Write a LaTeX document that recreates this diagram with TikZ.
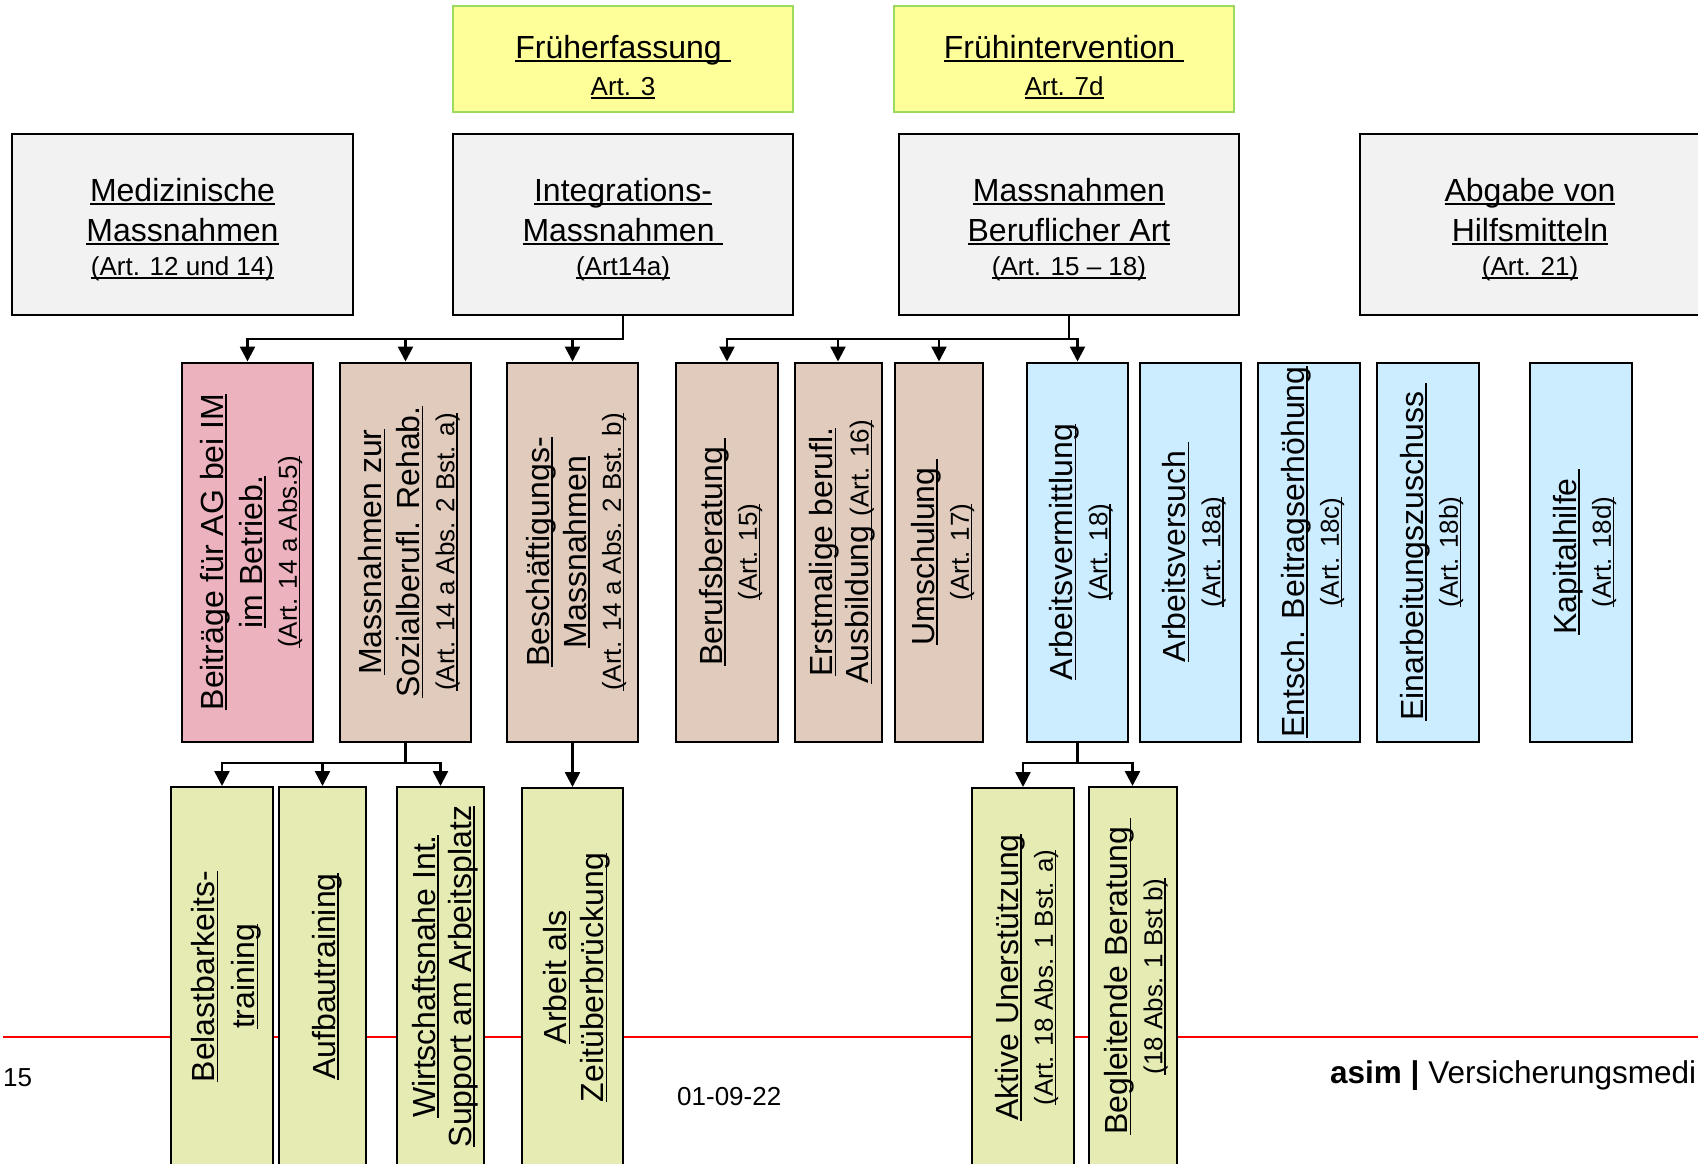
\documentclass[tikz,border=0pt]{standalone}
\usepackage{fontspec}
\setmainfont{Liberation Sans}
\usepackage{graphicx}
\usetikzlibrary{arrows.meta}

\definecolor{boxgray}{HTML}{F2F2F2}
\definecolor{boxyellow}{HTML}{FFFF99}
\definecolor{boxgreen}{HTML}{9BDB5F}
\definecolor{boxpink}{HTML}{ECB2BE}
\definecolor{boxtan}{HTML}{E0CBBC}
\definecolor{boxblue}{HTML}{CCECFF}
\definecolor{boxlime}{HTML}{E6EBB3}

\newsavebox{\undlbox}
\newcommand{\undl}[1]{\sbox{\undlbox}{#1}\rlap{\usebox{\undlbox}}\rule[-3.5pt]{\wd\undlbox}{1.4pt}}
\newcommand{\bigtxt}{\fontsize{32}{38}\selectfont}
\newcommand{\smalltxt}{\fontsize{26}{31}\selectfont}
% text block, lowered a little as in the slide
\newcommand{\hlines}[2][5pt]{\raisebox{-#1}[\height][\depth]{\bigtxt\begin{tabular}{@{}c@{}}#2\end{tabular}}}
\newcommand{\vlines}[2][5pt]{\rotatebox{90}{\hlines[#1]{#2}}}

\begin{document}
\begin{tikzpicture}[x=1pt,y=-1pt,
  catbox/.style={draw, line width=2pt, inner sep=0pt},
  graybox/.style={catbox, fill=boxgray, minimum width=340pt, minimum height=181pt},
  yelbox/.style={draw=boxgreen, line width=2pt, fill=boxyellow, inner sep=0pt,
    minimum width=340pt, minimum height=105pt},
  tallbox/.style={catbox, minimum height=379pt},
  conn/.style={line width=2.5pt},
  arr/.style={conn, -{Triangle[length=15pt,width=15pt]}}]
  \useasboundingbox (0,0) rectangle (1698,1164);

  \draw[red, line width=2pt] (3,1037) -- (1698,1037);

  % top row
  \node[yelbox] (frueh) at (623,59)
    {\hlines[10pt]{\undl{Früherfassung\ }\\[-1pt] \smalltxt\undl{Art. 3}}};
  \node[yelbox] (inter) at (1064,59)
    {\hlines[10pt]{\undl{Frühintervention\ }\\[-1pt] \smalltxt\undl{Art. 7d}}};

  \node[graybox, minimum width=341pt] (med) at (182.5,224.5)
    {\hlines[6pt]{\undl{Medizinische}\\[2pt] \undl{Massnahmen}\\[-4pt] \smalltxt\undl{(Art. 12 und 14)}}};
  \node[graybox] (integ) at (623,224.5)
    {\hlines[6pt]{\undl{Integrations-}\\[2pt] \undl{Massnahmen\ }\\[-4pt] \smalltxt\undl{(Art14a)}}};
  \node[graybox] (beruf) at (1069,224.5)
    {\hlines[6pt]{\undl{Massnahmen}\\[2pt] \undl{Beruflicher Art}\\[-4pt] \smalltxt\undl{(Art. 15 – 18)}}};
  \node[graybox] (abgabe) at (1530,224.5)
    {\hlines[6pt]{\undl{Abgabe von}\\[2pt] \undl{Hilfsmitteln}\\[-4pt] \smalltxt\undl{(Art. 21)}}};

  % middle row
  \node[tallbox, fill=boxpink, minimum width=131pt] (beitr) at (247.5,552)
    {\vlines{\undl{Beiträge für AG bei IM}\\[1pt] \undl{im Betrieb.}\\[-3.5pt] \smalltxt\undl{(Art. 14 a Abs.5)}}};
  \node[tallbox, fill=boxtan, minimum width=131pt] (sozial) at (405.5,552)
    {\vlines{\undl{Massnahmen zur}\\ \undl{Sozialberufl. Rehab.}\\[-3.5pt] \smalltxt\undl{(Art. 14 a Abs. 2 Bst. a)}}};
  \node[tallbox, fill=boxtan, minimum width=131pt] (besch) at (572.5,552)
    {\vlines{\undl{Beschäftigungs-}\\[-1pt] \undl{Massnahmen}\\[-3.5pt] \smalltxt\undl{(Art. 14 a Abs. 2 Bst. b)}}};
  \node[tallbox, fill=boxtan, minimum width=102pt] (bberat) at (727,552)
    {\vlines{\undl{Berufsberatung\ }\\[-3.5pt] \smalltxt\undl{(Art. 15)}}};
  \node[tallbox, fill=boxtan, minimum width=87pt] (erstm) at (838,552)
    {\vlines{\undl{Erstmalige berufl.}\\[-2pt] \undl{Ausbildung {\smalltxt(Art. 16)}}}};
  \node[tallbox, fill=boxtan, minimum width=88pt] (umsch) at (939,552)
    {\vlines{\undl{Umschulung\ }\\[-3.5pt] \smalltxt\undl{(Art. 17)}}};
  \node[tallbox, fill=boxblue, minimum width=101pt] (vermit) at (1077.5,552)
    {\vlines{\undl{Arbeitsvermittlung}\\[-3.5pt] \smalltxt\undl{(Art. 18)}}};
  \node[tallbox, fill=boxblue, minimum width=101pt] (versuch) at (1190.5,552)
    {\vlines{\undl{Arbeitsversuch\ }\\[-3.5pt] \smalltxt\undl{(Art. 18a)}}};
  \node[tallbox, fill=boxblue, minimum width=102pt] (entsch) at (1309,552)
    {\vlines{\undl{Entsch. Beitragserhöhung}\\[-3.5pt] \smalltxt\undl{(Art. 18c)}}};
  \node[tallbox, fill=boxblue, minimum width=102pt] (einarb) at (1428,552)
    {\vlines{\undl{Einarbeitungszuschuss\ }\\[-3.5pt] \smalltxt\undl{(Art. 18b)}}};
  \node[tallbox, fill=boxblue, minimum width=102pt] (kapital) at (1581,552)
    {\vlines{\undl{Kapitalhilfe\ }\\[-3.5pt] \smalltxt\undl{(Art. 18d)}}};

  % bottom row
  \node[tallbox, fill=boxlime, minimum width=102pt] (belast) at (222,976.5)
    {\vlines{\undl{Belastbarkeits-}\\[2pt] \undl{training}}};
  \node[tallbox, fill=boxlime, minimum width=87pt] (aufbau) at (322.5,976.5)
    {\vlines{\undl{Aufbautraining}}};
  \node[tallbox, fill=boxlime, minimum width=87pt] (wirtsch) at (440.5,976.5)
    {\vlines{\undl{Wirtschaftsnahe Int.}\\[-2pt] \undl{Support am Arbeitsplatz}}};
  \node[tallbox, fill=boxlime, minimum width=101pt] (zeitbr) at (572.5,977.5)
    {\vlines{\undl{Arbeit als}\\[-1pt] \undl{Zeitüberbrückung}}};
  \node[tallbox, fill=boxlime, minimum width=102pt] (aktiv) at (1023,977.5)
    {\vlines{\undl{Aktive Unerstützung}\\[-3.5pt] \smalltxt\undl{(Art. 18 Abs. 1 Bst. a)}}};
  \node[tallbox, fill=boxlime, minimum width=88pt] (beglt) at (1132.5,976.5)
    {\vlines{\undl{Begleitende Beratung\ }\\[-3.5pt] \smalltxt\undl{(18 Abs. 1 Bst b)}}};

  % connectors
  \coordinate (bus1) at (0,339);
  \coordinate (bus2) at (0,763);
  \foreach \k in {beitr,sozial,besch}
    \draw[arr] (integ.south) -- (integ.south |- bus1) -| (\k.north);
  \foreach \k in {bberat,erstm,umsch,vermit}
    \draw[arr] (beruf.south) -- (beruf.south |- bus1) -| (\k.north);
  \foreach \k in {belast,aufbau,wirtsch}
    \draw[arr] (sozial.south) -- (sozial.south |- bus2) -| (\k.north);
  \draw[arr] (besch.south) -- (zeitbr.north);
  \foreach \k in {aktiv,beglt}
    \draw[arr] (vermit.south) -- (vermit.south |- bus2) -| (\k.north);

  % footer
  \node[anchor=base west, inner sep=0pt, font=\fontsize{26}{31}\selectfont] (pgnum) at (3,1086) {15};
  \node[anchor=base west, inner sep=0pt, font=\fontsize{26}{31}\selectfont] (datum) at (677,1105) {01-09-22};
  \node[anchor=base west, inner sep=0pt, font=\fontsize{31.5}{37}\selectfont] (brand) at (1330,1083)
    {\textbf{asim |} Versicherungsmedi};
\end{tikzpicture}
\end{document}
